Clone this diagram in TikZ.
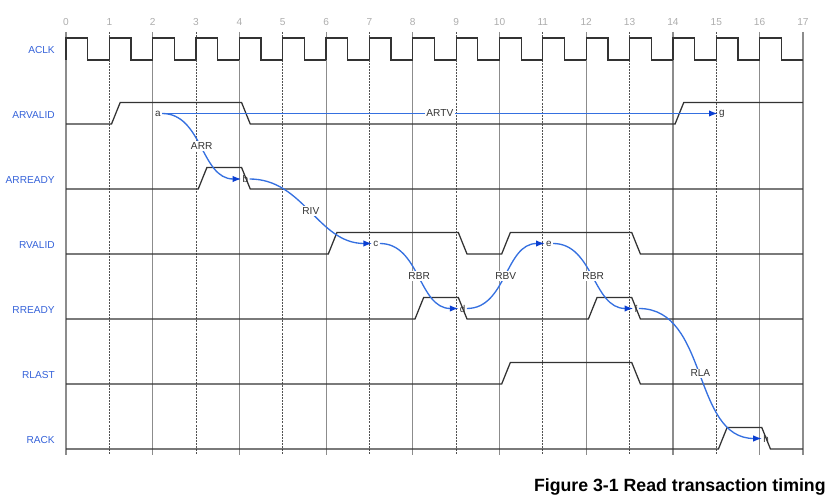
\documentclass[tikz,border=0pt]{standalone}
\usepackage{fontspec}
\setmainfont{Liberation Sans}
\usepackage{xcolor}
\definecolor{Ink}{HTML}{333333}
\definecolor{Grid}{HTML}{8C8C8C}
\definecolor{Tick}{HTML}{ADADAD}
\definecolor{SigName}{HTML}{3562D9}
\definecolor{Arc}{HTML}{3570E0}
\definecolor{ArcTip}{HTML}{0B3FD2}
\usetikzlibrary{arrows.meta}
\tikzset{
  wave/.style={draw=Ink,line width=0.95pt},
  gridline/.style={draw=Grid,line width=0.9pt},
  oddline/.style={draw=Ink!85,line width=0.65pt,dash pattern=on 1.5pt off 0.8pt},
  signame/.style={anchor=east,inner sep=0pt,text=SigName,font=\fontsize{7.6}{9}\selectfont},
  ticklbl/.style={text=Tick,font=\fontsize{7.6}{9}\selectfont},
  event/.style={text=Ink,inner sep=0.9pt,font=\fontsize{7.4}{8}\selectfont},
  flow/.style={-{Latex[length=6.5pt,width=4.8pt,color=ArcTip]},draw=Arc,line width=1pt},
  lbl/.style={fill=white,text=Ink,inner sep=1pt,font=\fontsize{7.6}{9}\selectfont}
}

\begin{document}
\begin{tikzpicture}[x=32.5125pt,y=0.75pt]
  \useasboundingbox (-1.5225,-502) rectangle (17.647,0);
  % cycle grid
  \foreach \k in {0,2,...,16,17}
    \draw[gridline] (\k,-32) -- (\k,-455);
  \foreach \k in {1,3,...,15}
    \draw[oddline] (\k,-32) -- (\k,-455);
  \foreach \k in {0,...,17}
    \node[ticklbl] (t\k) at (\k,-22) {\k};
  % signal names
  \node[signame] (aclk) at (-0.254,-50) {ACLK};
  \node[signame] (arvalid) at (-0.254,-115) {ARVALID};
  \node[signame] (arready) at (-0.254,-180) {ARREADY};
  \node[signame] (rvalid) at (-0.254,-245) {RVALID};
  \node[signame] (rready) at (-0.254,-310) {RREADY};
  \node[signame] (rlast) at (-0.254,-375) {RLAST};
  \node[signame] (rack) at (-0.254,-440) {RACK};
  % waveforms
  \foreach \k in {0,...,16}
    \draw[wave] (\k,-60) |- (\k+0.5,-38) |- (\k+1,-60);
  \draw[wave] (0,-124) -- (1.05,-124) -- (1.25,-102.5) -- (4.05,-102.5) -- (4.25,-124)
    -- (14.05,-124) -- (14.25,-102.5) -- (17,-102.5);
  \draw[wave] (0,-189) -- (3.05,-189) -- (3.25,-167.5) -- (4.05,-167.5) -- (4.25,-189) -- (17,-189);
  \draw[wave] (0,-254) -- (6.05,-254) -- (6.25,-232.5) -- (9.05,-232.5) -- (9.25,-254)
    -- (10.05,-254) -- (10.25,-232.5) -- (13.05,-232.5) -- (13.25,-254) -- (17,-254);
  \draw[wave] (0,-319) -- (8.05,-319) -- (8.25,-297.5) -- (9.05,-297.5) -- (9.25,-319)
    -- (12.05,-319) -- (12.25,-297.5) -- (13.05,-297.5) -- (13.25,-319) -- (17,-319);
  \draw[wave] (0,-384) -- (10.05,-384) -- (10.25,-362.5) -- (13.05,-362.5) -- (13.25,-384) -- (17,-384);
  \draw[wave] (0,-449) -- (15.05,-449) -- (15.25,-427.5) -- (16.05,-427.5) -- (16.25,-449) -- (17,-449);
  % events
  \node[event] (a) at (2.12,-113.5) {a};
  \node[event] (b) at (4.14,-179) {b};
  \node[event] (c) at (7.15,-243.5) {c};
  \node[event] (d) at (9.15,-308.5) {d};
  \node[event] (e) at (11.14,-243.5) {e};
  \node[event] (f) at (13.15,-308.5) {f};
  \node[event] (g) at (15.13,-113.5) {g};
  \node[event] (h) at (16.15,-438.5) {h};
  \draw[flow] (a) -- node[lbl] {ARTV} (g);
  \draw[flow] (a.east) to[out=0,in=180] node[lbl] {ARR} (b.west);
  \draw[flow] (b.east) to[out=0,in=180] node[lbl] {RIV} (c.west);
  \draw[flow] (c.east) to[out=0,in=180] node[lbl] {RBR} (d.west);
  \draw[flow] (d.east) to[out=0,in=180] node[lbl] {RBV} (e.west);
  \draw[flow] (e.east) to[out=0,in=180] node[lbl] {RBR} (f.west);
  \draw[flow] (f.east) to[out=0,in=180] node[lbl] {RLA} (h.west);
  % caption
  \node[anchor=east,inner sep=0pt,font=\fontsize{13.3}{15}\selectfont\bfseries] (caption)
    at (17.53,-487) {Figure 3-1 Read transaction timing};
\end{tikzpicture}
\end{document}
